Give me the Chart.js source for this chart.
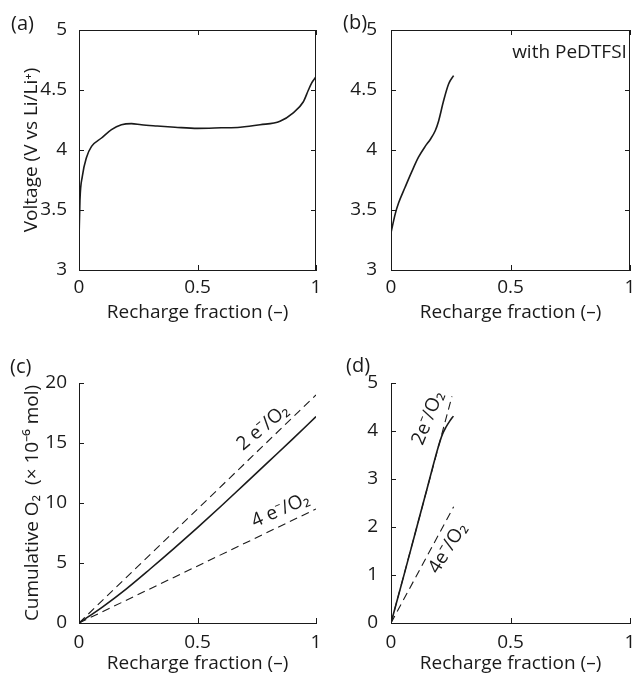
<!DOCTYPE html>
<html>
<head>
<meta charset="utf-8">
<script src="https://cdn.jsdelivr.net/npm/chart.js@4.4.1/dist/chart.umd.min.js"></script>
<style>
    body { margin: 0; background: #fff; }
    #wrap { position: relative; width: 633px; height: 673px; overflow: hidden; }
    canvas { position: absolute; }
    .tag { position: absolute; font: 20px 'Open Sans', sans-serif; color: #1a1a1a; line-height: 1; }
</style>
</head>
<body>
<div id="wrap">
    <canvas id="pa" width="320" height="330" style="left:0;top:0"></canvas>
    <canvas id="pb" width="313" height="330" style="left:320px;top:0"></canvas>
    <canvas id="pc" width="320" height="343" style="left:0;top:330px"></canvas>
    <canvas id="pd" width="313" height="343" style="left:320px;top:330px"></canvas>
    <div class="tag" style="left:11px;top:13px">(a)</div>
    <div class="tag" style="left:343px;top:12px">(b)</div>
    <div class="tag" style="left:10px;top:356px">(c)</div>
    <div class="tag" style="left:346px;top:355px">(d)</div>
</div>
<script>
// (a) voltage profile without additive
const aFrac = [0, 0.004, 0.014, 0.032, 0.053, 0.095, 0.137, 0.179, 0.221, 0.263, 0.33, 0.405, 0.5, 0.6, 0.68, 0.764, 0.848, 0.904, 0.946, 0.968, 0.982, 1.0]
const aVolt = [3.25, 3.58, 3.78, 3.94, 4.03, 4.10, 4.17, 4.21, 4.22, 4.21, 4.20, 4.19, 4.18, 4.185, 4.19, 4.21, 4.24, 4.31, 4.40, 4.50, 4.56, 4.61]

// (b) voltage profile with PeDTFSI
const bFrac = [0, 0.018, 0.032, 0.059, 0.087, 0.115, 0.143, 0.165, 0.185, 0.199, 0.22, 0.241, 0.262]
const bVolt = [3.31, 3.47, 3.56, 3.69, 3.82, 3.94, 4.03, 4.09, 4.16, 4.24, 4.41, 4.55, 4.62]

// (c) cumulative O2, measured and 2e-/4e- references
const cFrac = [0, 0.1, 0.2, 0.3, 0.4, 0.5, 0.6, 0.7, 0.8, 0.9, 1.0]
const cO2 = [0, 1.35, 2.85, 4.5, 6.2, 7.95, 9.75, 11.6, 13.45, 15.3, 17.2]
const c2eFrac = [0, 1.0]
const c2eO2 = [0, 19.0]
const c4eFrac = [0, 1.0]
const c4eO2 = [0, 9.5]

// (d) cumulative O2 with PeDTFSI
const dFrac = [0, 0.05, 0.1, 0.15, 0.198, 0.215, 0.23, 0.245, 0.261]
const dO2 = [0, 0.92, 1.85, 2.78, 3.67, 3.93, 4.08, 4.2, 4.31]
const d2eFrac = [0, 0.255]
const d2eO2 = [0, 4.72]
const d4eFrac = [0, 0.262]
const d4eO2 = [0, 2.42]

const xTicks = [0, 0.5, 1]
const voltTicks = [3, 3.5, 4, 4.5, 5]
const cTicks = [0, 5, 10, 15, 20]
const dTicks = [0, 1, 2, 3, 4, 5]

const INK = "#1a1a1a"
const FONT = "'Open Sans', sans-serif"
const TICK = 5

const pts = (xs, ys) => xs.map((v, i) => ({ x: v, y: ys[i] }))

const innerTicks = {
    id: "innerTicks",
    afterDraw(chart, args, opts) {
        const { ctx, chartArea: a, scales: { x, y } } = chart
        ctx.save()
        ctx.strokeStyle = INK
        ctx.lineWidth = 1
        ctx.beginPath()
        for (const t of x.ticks) {
            const px = Math.round(x.getPixelForValue(t.value)) + 0.5
            ctx.moveTo(px, a.bottom)
            ctx.lineTo(px, a.bottom - TICK)
            if (opts.box) {
                ctx.moveTo(px, a.top)
                ctx.lineTo(px, a.top + TICK)
            }
        }
        for (const t of y.ticks) {
            const py = Math.round(y.getPixelForValue(t.value)) + 0.5
            ctx.moveTo(a.left, py)
            ctx.lineTo(a.left + TICK, py)
            if (opts.box) {
                ctx.moveTo(a.right, py)
                ctx.lineTo(a.right - TICK, py)
            }
        }
        if (opts.box) {
            ctx.moveTo(a.left, Math.round(a.top) + 0.5)
            ctx.lineTo(a.right, Math.round(a.top) + 0.5)
            ctx.moveTo(Math.round(a.right) - 0.5, a.top)
            ctx.lineTo(Math.round(a.right) - 0.5, a.bottom)
        }
        ctx.stroke()
        ctx.restore()
    }
}

const notes = {
    id: "notes",
    afterDatasetsDraw(chart, args, opts) {
        const { ctx, scales: { x, y } } = chart
        for (const n of opts.items || []) {
            ctx.save()
            ctx.translate(x.getPixelForValue(n.x), y.getPixelForValue(n.y))
            ctx.rotate((n.rot || 0) * Math.PI / 180)
            ctx.fillStyle = INK
            ctx.font = `19px ${FONT}`
            ctx.textAlign = n.align || "center"
            ctx.textBaseline = "middle"
            ctx.fillText(n.text, 0, 0)
            ctx.restore()
        }
    }
}

function line(data, dashed) {
    return {
        data: data,
        borderColor: INK,
        borderWidth: dashed ? 1.1 : 1.6,
        borderDash: dashed ? [8, 5] : [],
        pointRadius: 0,
        cubicInterpolationMode: dashed ? "default" : "monotone",
        fill: false
    }
}

function makePanel(id, cfg) {
    const tickFont = { family: FONT, size: 19 }
    new Chart(document.getElementById(id), {
        type: "line",
        data: { datasets: cfg.datasets },
        options: {
            responsive: false,
            animation: false,
            layout: { padding: cfg.padding },
            plugins: {
                legend: { display: false },
                tooltip: { enabled: false },
                innerTicks: { box: cfg.box },
                notes: { items: cfg.notes }
            },
            scales: {
                x: {
                    type: "linear",
                    min: 0,
                    max: 1,
                    afterBuildTicks: s => { s.ticks = xTicks.map(v => ({ value: v })) },
                    ticks: { color: INK, font: tickFont, padding: cfg.xPad, maxRotation: 0, callback: v => String(v) },
                    grid: { display: false },
                    border: { display: true, color: INK, width: 1 },
                    title: {
                        display: true,
                        text: "Recharge fraction (–)",
                        color: INK,
                        font: { family: FONT, size: 19, lineHeight: 1 },
                        padding: { top: 0, bottom: cfg.xTitlePad }
                    },
                    afterFit: s => {
                        s.height = cfg.xH
                        s.paddingLeft = 0
                        s.paddingRight = 0
                    }
                },
                y: {
                    type: "linear",
                    min: cfg.yTicks[0],
                    max: cfg.yTicks[cfg.yTicks.length - 1],
                    afterBuildTicks: s => { s.ticks = cfg.yTicks.map(v => ({ value: v })) },
                    ticks: { color: INK, font: tickFont, padding: cfg.yPad, callback: v => String(v) },
                    grid: { display: false },
                    border: { display: true, color: INK, width: 1 },
                    title: {
                        display: !!cfg.yTitle,
                        text: cfg.yTitle || "",
                        color: INK,
                        font: { family: FONT, size: 19, lineHeight: 1 },
                        padding: { top: cfg.yTitlePad || 0, bottom: 0 }
                    },
                    afterFit: s => {
                        s.width = cfg.yW
                        s.paddingTop = 0
                        s.paddingBottom = 0
                    }
                }
            }
        },
        plugins: [innerTicks, notes]
    })
}

makePanel("pa", {
    datasets: [line(pts(aFrac, aVolt), false)],
    padding: { left: 0, top: 30, right: 4, bottom: 0 },
    box: true,
    yTicks: voltTicks,
    yW: 79, xH: 60, xPad: -2, yPad: 4, xTitlePad: 8,
    yTitle: "Voltage (V vs Li/Li⁺)", yTitlePad: 22,
    notes: []
})

makePanel("pb", {
    datasets: [line(pts(bFrac, bVolt), false)],
    padding: { left: 0, top: 30, right: 3, bottom: 0 },
    box: true,
    yTicks: voltTicks,
    yW: 71, xH: 60, xPad: -2, yPad: 6, xTitlePad: 8,
    notes: [{ text: "with PeDTFSI", x: 0.987, y: 4.81, align: "right" }]
})

makePanel("pc", {
    datasets: [
        line(pts(c2eFrac, c2eO2), true),
        line(pts(c4eFrac, c4eO2), true),
        line(pts(cFrac, cO2), false)
    ],
    padding: { left: 0, top: 53, right: 4, bottom: 0 },
    box: false,
    yTicks: cTicks,
    yW: 79, xH: 50, xPad: 0, yPad: 4, xTitlePad: 0,
    yTitle: "Cumulative O₂  (× 10⁻⁶ mol)", yTitlePad: 23,
    notes: [
        { text: "2 e⁻/O₂", x: 0.776, y: 16.3, rot: -40 },
        { text: "4 e⁻/O₂", x: 0.85, y: 9.4, rot: -24 }
    ]
})

makePanel("pd", {
    datasets: [
        line(pts(d2eFrac, d2eO2), true),
        line(pts(d4eFrac, d4eO2), true),
        line(pts(dFrac, dO2), false)
    ],
    padding: { left: 0, top: 53, right: 3, bottom: 0 },
    box: false,
    yTicks: dTicks,
    yW: 71, xH: 50, xPad: 0, yPad: 5, xTitlePad: 0,
    notes: [
        { text: "2e⁻/O₂", x: 0.155, y: 4.27, rot: -68 },
        { text: "4e⁻/O₂", x: 0.238, y: 1.56, rot: -58 }
    ]
})
</script>
</body>
</html>
